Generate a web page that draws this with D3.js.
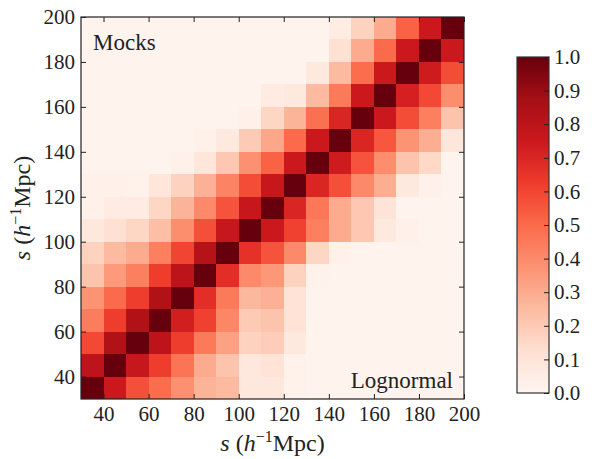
<!DOCTYPE html>
<meta charset="utf-8" />
<title>Correlation matrix: Mocks vs Lognormal</title>
<style>
  body { margin: 0; background: #fff; }
  .cell { shape-rendering: crispEdges; }
  .frame { fill: none; stroke: #222; stroke-width: 1.2; }
  .tick line { stroke: #222; stroke-width: 1; }
</style>
<body>
<script src="https://d3js.org/d3.v7.min.js"></script>
<script>
  // bin centres in s (h^-1 Mpc), bins are 10 wide
  var sCenters = [35, 45, 55, 65, 75, 85, 95, 105, 115, 125, 135, 145, 155, 165, 175, 185, 195];
  var binWidth = 10;

  // correlation matrix, one row per s bin (bottom row first)
  // cells above the diagonal = Mocks, below = Lognormal
  var corr = [
    [1.00, 0.75, 0.57, 0.49, 0.38, 0.27, 0.25, 0.08, 0.08, 0.02, 0.01, 0.01, 0.01, 0.01, 0.01, 0.01, 0.01],
    [0.80, 1.00, 0.77, 0.62, 0.47, 0.30, 0.22, 0.08, 0.11, 0.02, 0.01, 0.01, 0.01, 0.01, 0.01, 0.01, 0.01],
    [0.59, 0.84, 1.00, 0.80, 0.62, 0.45, 0.33, 0.17, 0.19, 0.07, 0.01, 0.01, 0.01, 0.01, 0.01, 0.01, 0.01],
    [0.44, 0.62, 0.84, 1.00, 0.73, 0.61, 0.41, 0.20, 0.22, 0.11, 0.01, 0.01, 0.01, 0.01, 0.01, 0.01, 0.01],
    [0.37, 0.50, 0.62, 0.84, 1.00, 0.67, 0.45, 0.26, 0.28, 0.11, 0.01, 0.01, 0.01, 0.01, 0.01, 0.01, 0.01],
    [0.22, 0.35, 0.43, 0.62, 0.80, 1.00, 0.67, 0.40, 0.36, 0.17, 0.02, 0.01, 0.01, 0.01, 0.01, 0.01, 0.01],
    [0.17, 0.25, 0.30, 0.43, 0.60, 0.82, 1.00, 0.66, 0.56, 0.40, 0.16, 0.03, 0.01, 0.01, 0.01, 0.01, 0.01],
    [0.08, 0.12, 0.16, 0.24, 0.39, 0.57, 0.77, 1.00, 0.75, 0.61, 0.43, 0.30, 0.21, 0.07, 0.03, 0.01, 0.01],
    [0.03, 0.06, 0.06, 0.16, 0.27, 0.40, 0.56, 0.77, 1.00, 0.70, 0.46, 0.30, 0.21, 0.10, 0.01, 0.01, 0.01],
    [0.03, 0.03, 0.02, 0.09, 0.17, 0.28, 0.42, 0.58, 0.77, 1.00, 0.70, 0.57, 0.40, 0.29, 0.07, 0.03, 0.01],
    [0.01, 0.01, 0.01, 0.01, 0.03, 0.09, 0.21, 0.38, 0.52, 0.75, 1.00, 0.74, 0.56, 0.39, 0.22, 0.15, 0.01],
    [0.01, 0.01, 0.01, 0.01, 0.01, 0.03, 0.07, 0.20, 0.31, 0.50, 0.75, 1.00, 0.70, 0.55, 0.37, 0.29, 0.09],
    [0.01, 0.01, 0.01, 0.01, 0.01, 0.01, 0.01, 0.03, 0.16, 0.27, 0.48, 0.70, 1.00, 0.75, 0.58, 0.43, 0.22],
    [0.01, 0.01, 0.01, 0.01, 0.01, 0.01, 0.01, 0.01, 0.06, 0.07, 0.25, 0.45, 0.75, 1.00, 0.72, 0.59, 0.39],
    [0.01, 0.01, 0.01, 0.01, 0.01, 0.01, 0.01, 0.01, 0.01, 0.01, 0.07, 0.25, 0.49, 0.75, 1.00, 0.74, 0.58],
    [0.01, 0.01, 0.01, 0.01, 0.01, 0.01, 0.01, 0.01, 0.01, 0.01, 0.01, 0.12, 0.30, 0.50, 0.75, 1.00, 0.75],
    [0.01, 0.01, 0.01, 0.01, 0.01, 0.01, 0.01, 0.01, 0.01, 0.01, 0.01, 0.05, 0.17, 0.30, 0.52, 0.75, 1.00]
  ];

  var axisTicks = [40, 60, 80, 100, 120, 140, 160, 180, 200];
  var cbTicks = [0.0, 0.1, 0.2, 0.3, 0.4, 0.5, 0.6, 0.7, 0.8, 0.9, 1.0];

  // matplotlib "Reds" anchor colours
  var reds = ["#fff5f0", "#fee0d2", "#fcbba1", "#fc9272", "#fb6a4a", "#ef3b2c", "#cb181d", "#a50f15", "#67000d"];

  var W = 601, H = 459;
  var plot = { left: 81, right: 464, top: 17, bottom: 399 };
  var bar = { left: 517, right: 549, top: 57, bottom: 393 };
  var fontSize = 21, tickLen = 5;
  var serif = "'Liberation Serif'";

  var color = d3.scaleLinear()
    .domain(reds.map(function(d, i) { return i / (reds.length - 1); }))
    .range(reds)
    .interpolate(d3.interpolateRgb)
    .clamp(true);

  var x = d3.scaleLinear().domain([30, 200]).range([plot.left, plot.right]);
  var y = d3.scaleLinear().domain([30, 200]).range([plot.bottom, plot.top]);

  var svg = d3.select("body").append("svg")
    .attr("width", W)
    .attr("height", H);

  // flatten the matrix into cells
  var cells = [];
  corr.forEach(function(row, j) {
    row.forEach(function(v, i) {
      cells.push({ sx: sCenters[i], sy: sCenters[j], v: v });
    });
  });

  svg.append("g")
    .selectAll("rect")
    .data(cells)
    .enter()
    .append("rect")
    .attr("class", "cell")
    .attr("x", function(d) { return x(d.sx - binWidth / 2); })
    .attr("y", function(d) { return y(d.sy + binWidth / 2); })
    .attr("width", function(d) { return x(d.sx + binWidth / 2) - x(d.sx - binWidth / 2); })
    .attr("height", function(d) { return y(d.sy - binWidth / 2) - y(d.sy + binWidth / 2); })
    .attr("fill", function(d) { return color(d.v); });

  // axes, ticks pointing inward on all four sides
  function styleAxis(g) {
    g.select(".domain").remove();
    g.selectAll(".tick text")
      .style("font-family", serif)
      .style("font-size", fontSize + "px")
      .attr("fill", "#222");
  }

  svg.append("g")
    .attr("transform", "translate(0," + plot.bottom + ")")
    .call(d3.axisBottom(x).tickValues(axisTicks).tickSize(-tickLen).tickPadding(7))
    .call(styleAxis);

  svg.append("g")
    .attr("transform", "translate(0," + plot.top + ")")
    .call(d3.axisTop(x).tickValues(axisTicks).tickSize(-tickLen).tickFormat(""))
    .call(styleAxis);

  svg.append("g")
    .attr("transform", "translate(" + plot.left + ",0)")
    .call(d3.axisLeft(y).tickValues(axisTicks).tickSize(-tickLen).tickPadding(6))
    .call(styleAxis);

  svg.append("g")
    .attr("transform", "translate(" + plot.right + ",0)")
    .call(d3.axisRight(y).tickValues(axisTicks).tickSize(-tickLen).tickFormat(""))
    .call(styleAxis);

  svg.append("rect")
    .attr("class", "frame")
    .attr("x", plot.left)
    .attr("y", plot.top)
    .attr("width", plot.right - plot.left)
    .attr("height", plot.bottom - plot.top);

  // panel labels
  svg.append("text")
    .attr("x", plot.left + 12)
    .attr("y", plot.top + 33)
    .style("font-family", serif)
    .style("font-size", "23px")
    .attr("fill", "#222")
    .text("Mocks");

  svg.append("text")
    .attr("x", plot.right - 11)
    .attr("y", plot.bottom - 11)
    .attr("text-anchor", "end")
    .style("font-family", serif)
    .style("font-size", "23px")
    .attr("fill", "#222")
    .text("Lognormal");

  // axis titles: s (h^-1 Mpc)
  function axisTitle(t) {
    t.style("font-family", serif).style("font-size", "24px")
      .attr("text-anchor", "middle").attr("fill", "#222");
    t.append("tspan").style("font-style", "italic").text("s");
    t.append("tspan").text(" (");
    t.append("tspan").style("font-style", "italic").text("h");
    t.append("tspan").attr("dy", -9).style("font-size", "16px").text("\u22121");
    t.append("tspan").attr("dy", 9).text("Mpc)");
  }

  svg.append("text")
    .attr("x", (plot.left + plot.right) / 2)
    .attr("y", 451)
    .call(axisTitle);

  svg.append("text")
    .attr("transform", "translate(30," + (plot.top + plot.bottom) / 2 + ") rotate(-90)")
    .call(axisTitle);

  // colour bar
  var grad = svg.append("defs").append("linearGradient")
    .attr("id", "redsGrad")
    .attr("x1", 0).attr("y1", 1)
    .attr("x2", 0).attr("y2", 0);

  grad.selectAll("stop")
    .data(reds)
    .enter()
    .append("stop")
    .attr("offset", function(d, i) { return i / (reds.length - 1); })
    .attr("stop-color", function(d) { return d; });

  svg.append("rect")
    .attr("x", bar.left)
    .attr("y", bar.top)
    .attr("width", bar.right - bar.left)
    .attr("height", bar.bottom - bar.top)
    .attr("fill", "url(#redsGrad)")
    .attr("stroke", "#333")
    .attr("stroke-width", 1.2);

  var cb = d3.scaleLinear().domain([0, 1]).range([bar.bottom, bar.top]);

  svg.append("g")
    .attr("transform", "translate(" + bar.right + ",0)")
    .call(d3.axisRight(cb).tickValues(cbTicks).tickSize(-tickLen).tickPadding(5).tickFormat(d3.format(".1f")))
    .call(styleAxis);
</script>
</body>
